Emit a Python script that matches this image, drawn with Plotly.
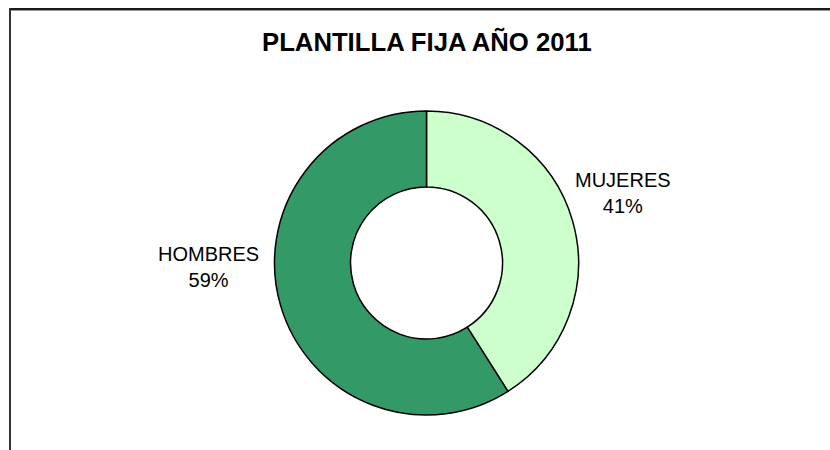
import plotly.graph_objects as go

title_text = "PLANTILLA FIJA AÑO 2011"
categories = ["MUJERES", "HOMBRES"]
values = [41, 59]
colors = ["#CCFFCC", "#339966"]
label_pos = {"MUJERES": (622.5 / 830, 1 - 193 / 450), "HOMBRES": (208 / 830, 1 - 267 / 450)}

W, H = 830, 450
cx, cy, R = 426.5, 263, 152

fig = go.Figure()
fig.add_trace(go.Pie(
    labels=categories,
    values=values,
    sort=False,
    direction="clockwise",
    rotation=0,
    hole=0.5,
    marker=dict(colors=colors, line=dict(color="#000000", width=1.5)),
    textinfo="none",
    hoverinfo="label+percent",
    showlegend=False,
    domain=dict(x=[(cx - R) / W, (cx + R) / W], y=[1 - (cy + R) / H, 1 - (cy - R) / H]),
))

total = sum(values)
annotations = []
for c, v in zip(categories, values):
    x, y = label_pos[c]
    annotations.append(dict(
        x=x, y=y, xref="paper", yref="paper", showarrow=False,
        text=f"{c}<br>{round(100 * v / total)}%",
        font=dict(family="Liberation Sans, Arial, sans-serif", size=20, color="#000000"),
        xanchor="center", yanchor="middle", align="center",
    ))
annotations.append(dict(
    x=426.5 / W, y=1 - 41 / H, xref="paper", yref="paper", showarrow=False,
    text=f"<b>{title_text}</b>",
    font=dict(family="Liberation Sans, Arial, sans-serif", size=25.7, color="#000000"),
    xanchor="center", yanchor="middle",
))

shapes = [
    dict(type="line", xref="paper", yref="paper", x0=10 / W, x1=1, y0=1 - 9 / H, y1=1 - 9 / H,
         line=dict(color="#1a1a1a", width=2)),
    dict(type="line", xref="paper", yref="paper", x0=10 / W, x1=1, y0=1 - 10.5 / H, y1=1 - 10.5 / H,
         line=dict(color="#999999", width=1)),
    dict(type="line", xref="paper", yref="paper", x0=10 / W, x1=10 / W, y0=0, y1=1 - 8 / H,
         line=dict(color="#333333", width=2)),
]

fig.update_layout(
    width=W, height=H,
    margin=dict(l=0, r=0, t=0, b=0),
    paper_bgcolor="#FFFFFF",
    plot_bgcolor="#FFFFFF",
    annotations=annotations,
    shapes=shapes,
)

fig.write_html(
    "out.html",
    config={"displayModeBar": False},
    post_script="document.body.style.margin='0';document.body.style.overflow='hidden';",
)
